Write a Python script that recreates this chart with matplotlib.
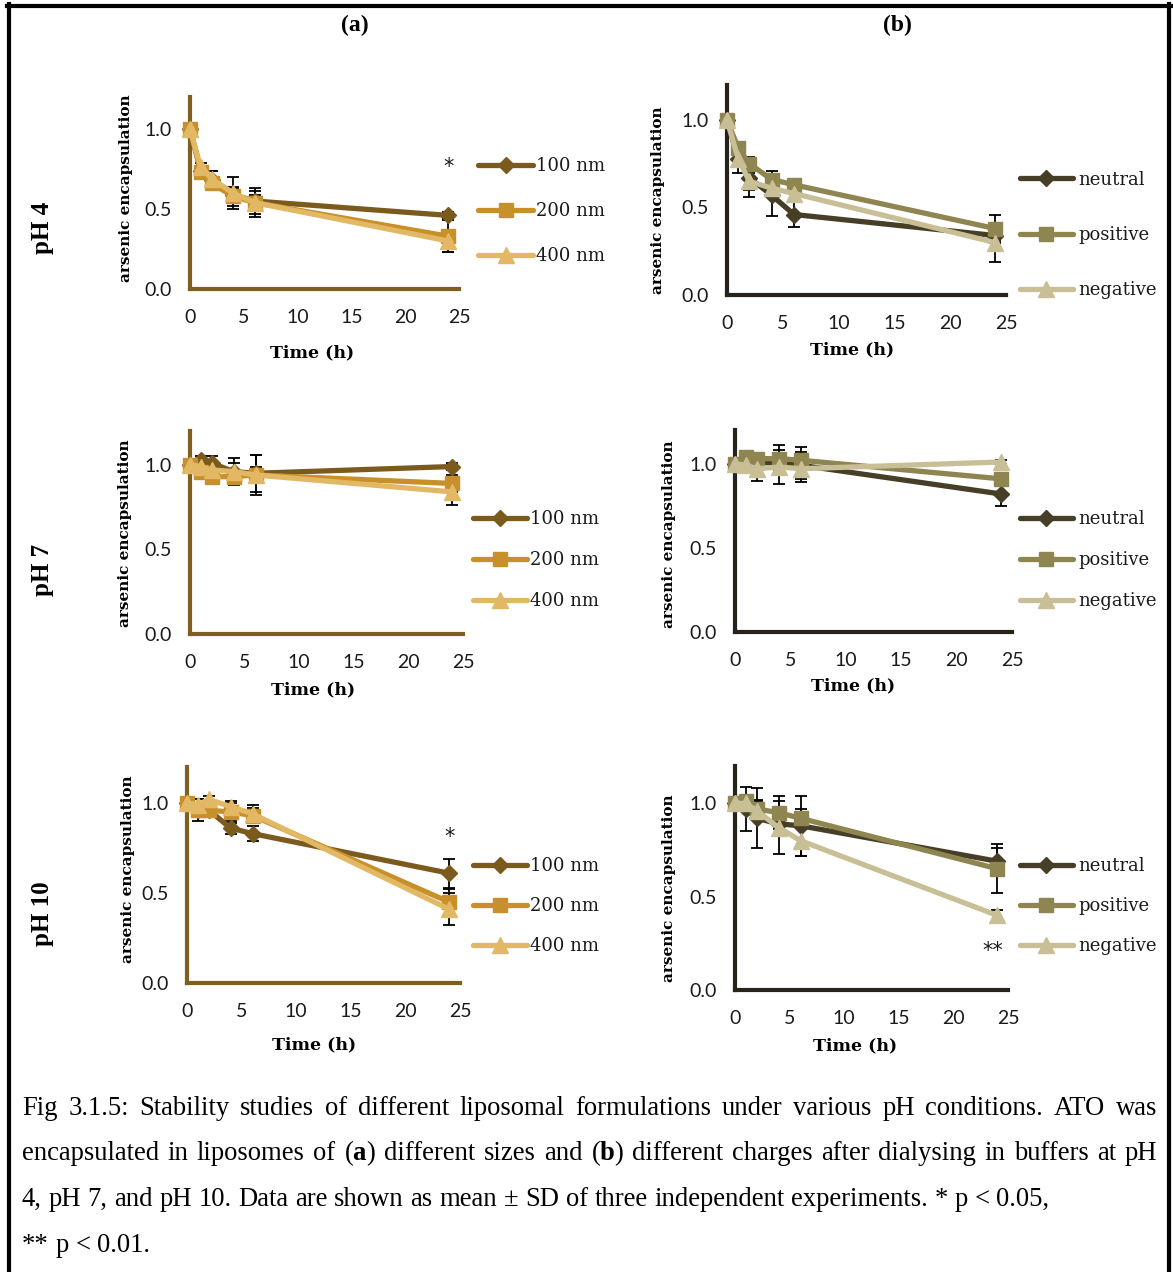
import matplotlib
matplotlib.use("Agg")
import matplotlib.pyplot as plt
from matplotlib.lines import Line2D

W, H = 1173, 1272
plt.rcParams['mathtext.fontset'] = 'custom'
plt.rcParams['mathtext.rm'] = 'Liberation Serif'
plt.rcParams['mathtext.bf'] = 'Liberation Serif:bold'

# ---------------- data ----------------
time_h = [0, 1, 2, 4, 6, 24]
x_ticks = [0, 5, 10, 15, 20, 25]
y_ticks = [0.0, 0.5, 1.0]
size_labels = ["100 nm", "200 nm", "400 nm"]
charge_labels = ["neutral", "positive", "negative"]

# (a) liposome size, pH 4
ph4_100nm = [1.00, 0.74, 0.68, 0.59, 0.55, 0.46]
ph4_200nm = [1.00, 0.73, 0.66, 0.58, 0.54, 0.33]
ph4_400nm = [1.00, 0.76, 0.69, 0.60, 0.54, 0.30]
ph4_100nm_sd = [0, 0.02, 0.06, 0.04, 0.04, 0.02]
ph4_200nm_sd = [0, 0.03, 0.04, 0.06, 0.09, 0.10]
ph4_400nm_sd = [0, 0.03, 0.05, 0.10, 0.07, 0.07]
# (a) pH 7
ph7_100nm = [1.00, 1.03, 1.01, 0.96, 0.95, 0.99]
ph7_200nm = [1.00, 0.96, 0.93, 0.93, 0.94, 0.89]
ph7_400nm = [1.00, 0.99, 0.97, 0.96, 0.94, 0.84]
ph7_100nm_sd = [0, 0.02, 0.04, 0.08, 0.11, 0.02]
ph7_200nm_sd = [0, 0.02, 0.02, 0.04, 0.05, 0.05]
ph7_400nm_sd = [0, 0.02, 0.03, 0.05, 0.12, 0.08]
# (a) pH 10
ph10_100nm = [1.00, 0.96, 0.96, 0.86, 0.83, 0.61]
ph10_200nm = [1.00, 0.96, 0.96, 0.95, 0.93, 0.45]
ph10_400nm = [1.00, 0.99, 1.02, 0.98, 0.94, 0.41]
ph10_100nm_sd = [0, 0.06, 0.04, 0.03, 0.04, 0.08]
ph10_200nm_sd = [0, 0.03, 0.03, 0.05, 0.04, 0.07]
ph10_400nm_sd = [0, 0.03, 0.02, 0.03, 0.05, 0.09]

# (b) liposome charge, pH 4
ph4_neutral = [1.00, 0.78, 0.67, 0.57, 0.46, 0.34]
ph4_positive = [1.00, 0.84, 0.75, 0.66, 0.63, 0.38]
ph4_negative = [1.00, 0.78, 0.65, 0.61, 0.58, 0.30]
ph4_neutral_sd = [0, 0.08, 0.11, 0.12, 0.07, 0.03]
ph4_positive_sd = [0, 0.03, 0.04, 0.05, 0.03, 0.08]
ph4_negative_sd = [0, 0.04, 0.05, 0.04, 0.03, 0.11]
# (b) pH 7
ph7_neutral = [1.00, 1.01, 1.01, 1.00, 0.99, 0.82]
ph7_positive = [1.00, 1.04, 1.03, 1.03, 1.02, 0.91]
ph7_negative = [1.00, 0.99, 0.97, 0.98, 0.97, 1.01]
ph7_neutral_sd = [0, 0.02, 0.04, 0.04, 0.08, 0.07]
ph7_positive_sd = [0, 0.02, 0.03, 0.08, 0.08, 0.03]
ph7_negative_sd = [0, 0.02, 0.07, 0.10, 0.08, 0.01]
# (b) pH 10
ph10_neutral = [1.00, 0.97, 0.92, 0.89, 0.88, 0.69]
ph10_positive = [1.00, 1.01, 0.97, 0.95, 0.92, 0.65]
ph10_negative = [1.00, 1.00, 0.96, 0.87, 0.80, 0.40]
ph10_neutral_sd = [0, 0.12, 0.16, 0.05, 0.16, 0.07]
ph10_positive_sd = [0, 0.03, 0.05, 0.09, 0.05, 0.13]
ph10_negative_sd = [0, 0.04, 0.05, 0.14, 0.08, 0.03]

# ---------------- styles ----------------
size_colors = ['#7b5a1e', '#c8902a', '#e2b865']
charge_colors = ['#463e26', '#8e8550', '#c8bf96']
axis_color = {'a': '#7f5f1f', 'b': '#27231a'}
markers = [('D', 8), ('s', 10), ('^', 11)]


def fx(x):
    return x / W


def fy(y):
    return 1 - y / H


fig = plt.figure(figsize=(W / 100, H / 100), dpi=100)

# panel layout: axes box in pixels (x0, ytop, x1, ybottom), labels, legend
panels = [
    dict(col='a', box=(190, 97, 459, 289),
         series=[ph4_100nm, ph4_200nm, ph4_400nm], sd=[ph4_100nm_sd, ph4_200nm_sd, ph4_400nm_sd],
         ylab=(126, 188), xlab=(312, 353), leg=(478, 211), leg_len=3.05, leg_pad=0.15, leg_sp=1.5,
         stars=[('*', 24, 0.76)]),
    dict(col='b', box=(727, 85, 1006, 295),
         series=[ph4_neutral, ph4_positive, ph4_negative], sd=[ph4_neutral_sd, ph4_positive_sd, ph4_negative_sd],
         ylab=(658, 200), xlab=(852, 350), leg=(1020, 235), leg_len=2.93, leg_pad=0.3, leg_sp=2.07,
         stars=[]),
    dict(col='a', box=(190, 431, 463, 634),
         series=[ph7_100nm, ph7_200nm, ph7_400nm], sd=[ph7_100nm_sd, ph7_200nm_sd, ph7_400nm_sd],
         ylab=(125, 533), xlab=(313, 690), leg=(473, 560), leg_len=3.0, leg_pad=0.15, leg_sp=1.27,
         stars=[]),
    dict(col='b', box=(735, 430, 1012, 632),
         series=[ph7_neutral, ph7_positive, ph7_negative], sd=[ph7_neutral_sd, ph7_positive_sd, ph7_negative_sd],
         ylab=(669, 534), xlab=(853, 686), leg=(1020, 560), leg_len=2.93, leg_pad=0.3, leg_sp=1.27,
         stars=[]),
    dict(col='a', box=(187, 767, 460, 983),
         series=[ph10_100nm, ph10_200nm, ph10_400nm], sd=[ph10_100nm_sd, ph10_200nm_sd, ph10_400nm_sd],
         ylab=(128, 869), xlab=(314, 1045), leg=(473, 906), leg_len=3.0, leg_pad=0.15, leg_sp=1.22,
         stars=[('*', 24, 0.81)]),
    dict(col='b', box=(735, 766, 1008, 990),
         series=[ph10_neutral, ph10_positive, ph10_negative], sd=[ph10_neutral_sd, ph10_positive_sd, ph10_negative_sd],
         ylab=(669, 888), xlab=(855, 1046), leg=(1020, 906), leg_len=2.93, leg_pad=0.3, leg_sp=1.22,
         stars=[('**', 23.6, 0.21)]),
]

for p in panels:
    x0, y0, x1, y1 = p['box']
    ax = fig.add_axes([fx(x0), fy(y1), (x1 - x0) / W, (y1 - y0) / H])
    ax.patch.set_alpha(0)
    colors = size_colors if p['col'] == 'a' else charge_colors
    labels = size_labels if p['col'] == 'a' else charge_labels
    handles = []
    for i, (vals, sd) in enumerate(zip(p['series'], p['sd'])):
        m, ms = markers[i]
        ax.errorbar(time_h, vals, yerr=sd, fmt='none', ecolor='black', elinewidth=1.3,
                    capsize=4.3, capthick=1.3, zorder=2.5 + i * 0.1, clip_on=False)
        ln, = ax.plot(time_h, vals, color=colors[i], lw=3.8, marker=m, markersize=ms,
                      markerfacecolor=colors[i], markeredgecolor=colors[i],
                      solid_capstyle='round', solid_joinstyle='round',
                      zorder=3 + i * 0.1, clip_on=False, label=labels[i])
        handles.append(ln)
    ax.set_xlim(0, 25)
    ax.set_ylim(0, 1.2)
    ax.set_xticks(x_ticks)
    ax.set_yticks(y_ticks)
    ax.set_yticklabels(['%.1f' % v for v in y_ticks])
    for s in ['top', 'right']:
        ax.spines[s].set_visible(False)
    for s in ['left', 'bottom']:
        ax.spines[s].set_color(axis_color[p['col']])
        ax.spines[s].set_linewidth(3)
        ax.spines[s].set_zorder(2)
    ax.tick_params(axis='x', length=0, pad=14.5, labelsize=14, labelcolor='#1a1a1a')
    ax.tick_params(axis='y', length=0, pad=13, labelsize=14, labelcolor='#1a1a1a')
    for lab in ax.get_xticklabels() + ax.get_yticklabels():
        lab.set_family('Lato')
    fig.text(fx(p['ylab'][0]), fy(p['ylab'][1]), 'arsenic encapsulation', rotation=90,
             ha='center', va='center', family='DejaVu Serif', weight='bold', fontsize=11)
    fig.text(fx(p['xlab'][0]), fy(p['xlab'][1]), 'Time (h)', ha='center', va='center',
             family='DejaVu Serif', weight='bold', fontsize=12.5)
    for txt, sx, sy in p['stars']:
        ax.text(sx, sy, txt, ha='center', va='center', fontsize=15, family='DejaVu Sans',
                color='#1a1a1a', zorder=5,
                bbox=dict(facecolor='white', edgecolor='none', pad=1) if txt == '**' else None)
    lg = ax.legend(handles=handles, loc='center left', bbox_to_anchor=(fx(p['leg'][0]), fy(p['leg'][1])),
                   bbox_transform=fig.transFigure, frameon=False, borderpad=0, borderaxespad=0,
                   handlelength=p['leg_len'], handletextpad=p['leg_pad'], labelspacing=p['leg_sp'],
                   prop={'family': 'DejaVu Serif', 'size': 13}, numpoints=1)
    for t in lg.get_texts():
        t.set_color('#1a1a1a')
    lg.set_zorder(4)

# column headings and row labels
fig.text(fx(355), fy(25), '(a)', ha='center', va='center', family='Liberation Serif', weight='bold', fontsize=17)
fig.text(fx(897), fy(25), '(b)', ha='center', va='center', family='Liberation Serif', weight='bold', fontsize=17)
for lab, yy in [('pH 4', 228), ('pH 7', 570), ('pH 10', 914)]:
    fig.text(fx(42), fy(yy), lab, rotation=90, ha='center', va='center',
             family='Liberation Serif', weight='bold', fontsize=18)

# caption
caption_lines = [
    ("Fig 3.1.5: Stability studies of different liposomal formulations under various pH conditions. ATO was", True),
    ("encapsulated in liposomes of ($\\mathbf{a}$) different sizes and ($\\mathbf{b}$) different charges after dialysing in buffers at pH", True),
    ("4, pH 7, and pH 10. Data are shown as mean \u00b1 SD of three independent experiments. * p < 0.05,", False),
    ("** p < 0.01.", False),
]
baselines = [1115, 1160, 1206, 1252]
cap_size = 19.2
renderer = fig.canvas.get_renderer()
for (line, justify), base in zip(caption_lines, baselines):
    words = line.split(' ')
    texts = [fig.text(0, fy(base), w, fontsize=cap_size, family='Liberation Serif',
                      va='baseline', ha='left', color='black') for w in words]
    widths = [t.get_window_extent(renderer).width for t in texts]
    if justify:
        gap = (1157 - 22 - sum(widths)) / (len(words) - 1)
    else:
        gap = 0.25 * cap_size * 100 / 72
    xx = 22
    for t, w in zip(texts, widths):
        t.set_x(fx(xx))
        xx += w + gap

# frame around figure
for xs, ys in [([9, 9], [4, H]), ([7, 1171], [6, 6]), ([1169, 1169], [4, H])]:
    fig.add_artist(Line2D([fx(v) for v in xs], [fy(v) for v in ys], color='black', lw=3,
                          transform=fig.transFigure))

fig.savefig('out.png', dpi=100)
